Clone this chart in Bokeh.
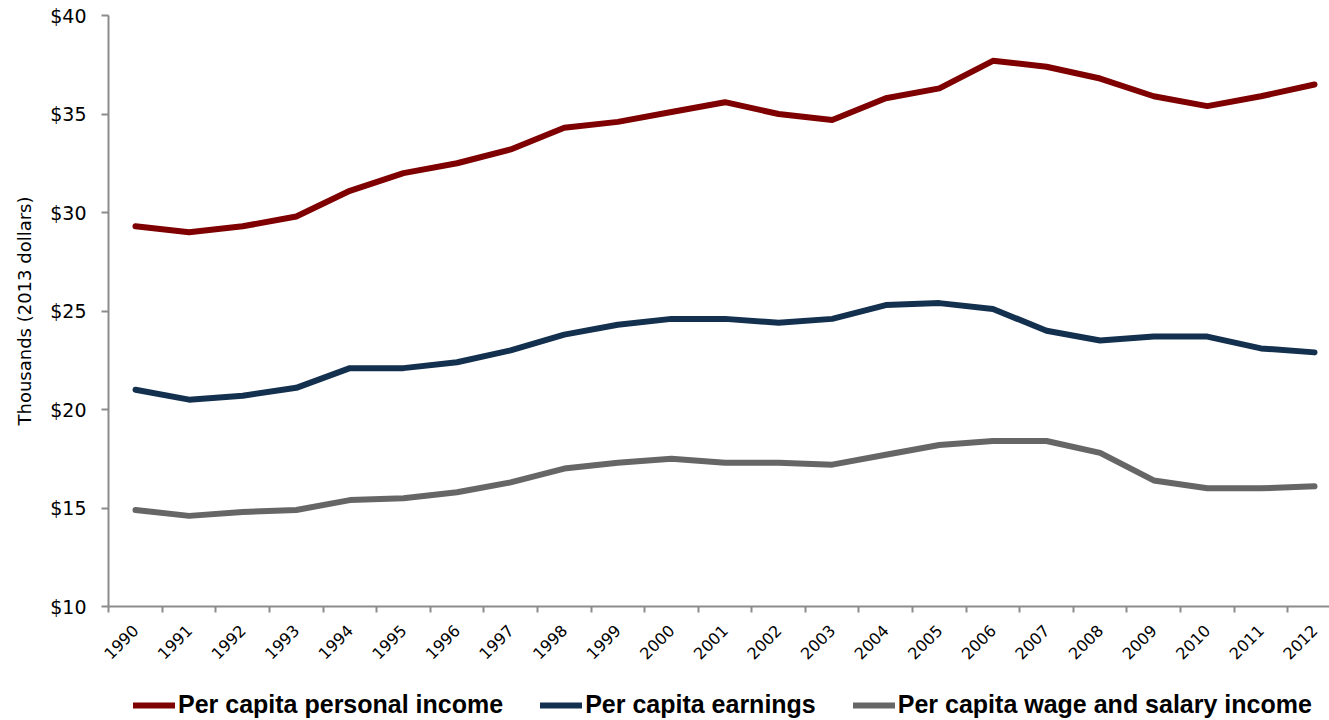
from bokeh.plotting import figure
from bokeh.models import Range1d, FixedTicker, Legend, LegendItem
from bokeh.layouts import column
from bokeh.embed import file_html
from bokeh.resources import INLINE

years = [str(y) for y in range(1990, 2013)]
personal_income = [29.3, 29.0, 29.3, 29.8, 31.1, 32.0, 32.5, 33.2, 34.3, 34.6, 35.1, 35.6,
                   35.0, 34.7, 35.8, 36.3, 37.7, 37.4, 36.8, 35.9, 35.4, 35.9, 36.5]
earnings = [21.0, 20.5, 20.7, 21.1, 22.1, 22.1, 22.4, 23.0, 23.8, 24.3, 24.6, 24.6,
            24.4, 24.6, 25.3, 25.4, 25.1, 24.0, 23.5, 23.7, 23.7, 23.1, 22.9]
wages = [14.9, 14.6, 14.8, 14.9, 15.4, 15.5, 15.8, 16.3, 17.0, 17.3, 17.5, 17.3,
         17.3, 17.2, 17.7, 18.2, 18.4, 18.4, 17.8, 16.4, 16.0, 16.0, 16.1]
series_names = ["Per capita personal income", "Per capita earnings", "Per capita wage and salary income"]
colors = ["#7f0000", "#14304f", "#666666"]
y_ticks = [10, 15, 20, 25, 30, 35, 40]
series_values = [personal_income, earnings, wages]

xs = list(range(len(years)))

p = figure(width=1329, height=682, output_backend="svg", toolbar_location=None,
           x_range=Range1d(-0.504, 22.28), y_range=Range1d(10, 40),
           min_border_left=108, min_border_right=0, min_border_top=15, min_border_bottom=76)
p.outline_line_color = None
p.grid.visible = False

for vals, col in zip(series_values, colors):
    p.line(xs, vals, line_color=col, line_width=6, line_cap="round", line_join="round")

axis_color = "#8c8c8c"
# x axis
p.xaxis.ticker = FixedTicker(ticks=xs, minor_ticks=[i - 0.5 for i in range(len(years) + 1)])
p.xaxis.major_label_overrides = {i: y for i, y in enumerate(years)}
p.xaxis.major_label_orientation = 0.785
p.xaxis.major_tick_line_color = None
p.xaxis.minor_tick_line_color = axis_color
p.xaxis.minor_tick_line_width = 2
p.xaxis.minor_tick_in = 0
p.xaxis.minor_tick_out = 6
p.xaxis.axis_line_color = axis_color
p.xaxis.axis_line_width = 2
p.xaxis.major_label_text_font = "DejaVu Sans"
p.xaxis.major_label_text_font_size = "16px"
p.xaxis.major_label_text_color = "black"
p.xaxis.major_label_standoff = 15

# y axis
p.yaxis.ticker = FixedTicker(ticks=y_ticks, minor_ticks=[])
p.yaxis.major_label_overrides = {v: "$%d" % v for v in y_ticks}
p.yaxis.axis_line_color = axis_color
p.yaxis.axis_line_width = 2
p.yaxis.major_tick_line_color = axis_color
p.yaxis.major_tick_line_width = 2
p.yaxis.major_tick_in = 0
p.yaxis.major_tick_out = 7
p.yaxis.major_label_text_font = "DejaVu Sans"
p.yaxis.major_label_text_font_size = "19px"
p.yaxis.major_label_text_color = "black"
p.yaxis.major_label_standoff = 15
p.yaxis.axis_label = "Thousands (2013 dollars)"
p.yaxis.axis_label_text_font = "DejaVu Sans"
p.yaxis.axis_label_text_font_size = "18px"
p.yaxis.axis_label_text_font_style = "normal"
p.yaxis.axis_label_text_color = "black"
p.yaxis.axis_label_standoff = 12

# legend in its own strip below the chart (its frame aligns with the chart frame)
lg = figure(width=1329, height=38, output_backend="svg", toolbar_location=None,
            x_range=Range1d(-0.504, 22.28), y_range=Range1d(100, 101),
            min_border_left=108, min_border_right=0, min_border_top=0, min_border_bottom=0)
lg.outline_line_color = None
lg.grid.visible = False
lg.axis.visible = False
proxies = []
for vals, col in zip(series_values, colors):
    # same series, outside this strip's visible range: only the legend samples show
    proxies.append(lg.line(xs, vals, line_color=col, line_width=6, line_cap="round"))

legend = Legend(items=[LegendItem(label=n, renderers=[r]) for n, r in zip(series_names, proxies)],
                orientation="horizontal", location=(25, 1),
                glyph_width=42, label_standoff=3, spacing=37,
                label_text_font="Liberation Sans", label_text_font_style="bold",
                label_text_font_size="25px", label_text_color="black",
                border_line_color=None, background_fill_alpha=0,
                padding=0, margin=0)
lg.add_layout(legend, "center")

layout = column(p, lg, spacing=0)
open("out.html", "w").write(file_html(layout, INLINE))
